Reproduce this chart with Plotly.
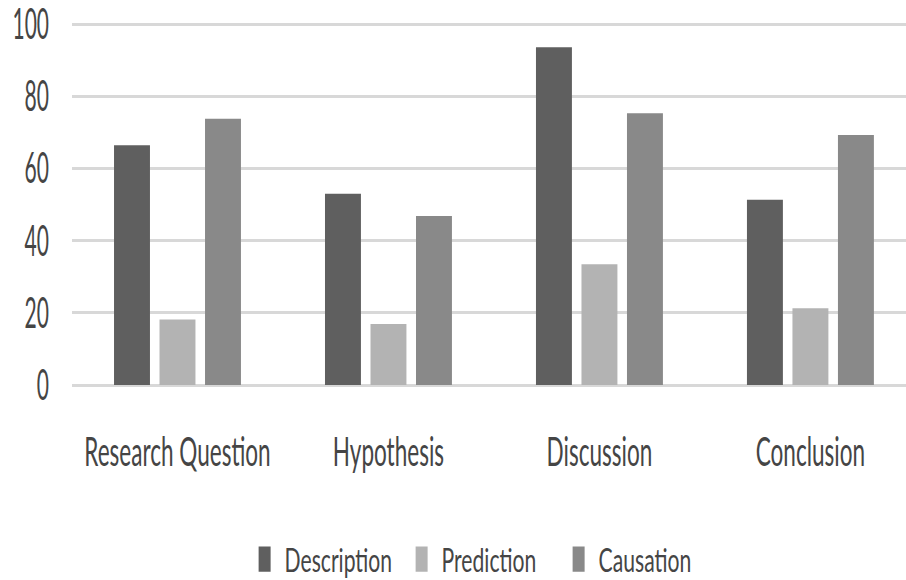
import plotly.graph_objects as go

categories = ["Research Question", "Hypothesis", "Discussion", "Conclusion"]
description = [66.5, 53.1, 93.7, 51.4]
prediction = [18.2, 16.9, 33.5, 21.3]
causation = [73.9, 46.9, 75.4, 69.4]
y_ticks = [0, 20, 40, 60, 80, 100]

series_names = ["Description", "Prediction", "Causation"]
series_values = [description, prediction, causation]
series_colors = ["#5f5f5f", "#b3b3b3", "#898989"]

fig = go.Figure()
for name, vals, color in zip(series_names, series_values, series_colors):
    fig.add_trace(go.Bar(
        x=categories, y=vals, name=name,
        marker=dict(color=color, line=dict(width=0)),
    ))

grid_color = "#d8d8d8"
fig.update_layout(
    width=906, height=580,
    margin=dict(l=72, r=0, t=21, b=195),
    paper_bgcolor="white", plot_bgcolor="white",
    barmode="group", bargap=0.353, bargroupgap=0.21,
    font=dict(family="Lato, sans-serif", color="#454545"),
    xaxis=dict(
        range=[-0.5, 3.453], tickangle=0, showgrid=False, showline=False,
        ticks="", tickfont=dict(size=41), ticklabelstandoff=39,
        ticklabeloverflow="allow",
        automargin=False, fixedrange=True,
    ),
    yaxis=dict(
        range=[0, 101], tickvals=y_ticks, showgrid=True,
        gridcolor=grid_color, gridwidth=2.5,
        zeroline=True, zerolinecolor=grid_color, zerolinewidth=2.5,
        showline=False, ticks="", tickfont=dict(size=42),
        ticklabelstandoff=22, ticklabeloverflow="allow",
        automargin=False, fixedrange=True,
    ),
    showlegend=True,
    legend=dict(
        orientation="h", xref="container", yref="container",
        x=0.27, y=0.036, xanchor="left", yanchor="middle",
        font=dict(size=33), entrywidth=112, entrywidthmode="pixels",
        itemclick=False, itemdoubleclick=False,
    ),
)

# Narrow, tall lettering: compress glyphs horizontally via SVG textLength,
# and stretch the legend swatches vertically.
squeeze_js = """
var gd = document.getElementById('{plot_id}');
function squeeze() {
  var groups = [['.xtick text', 0.55], ['.ytick text', 0.50], ['.legendtext', 0.64]];
  groups.forEach(function (g) {
    gd.querySelectorAll(g[0]).forEach(function (t) {
      if (t.getAttribute('data-sq')) return;
      var w = t.getComputedTextLength();
      t.setAttribute('textLength', (w * g[1]).toFixed(1));
      t.setAttribute('lengthAdjust', 'spacingAndGlyphs');
      t.setAttribute('data-sq', '1');
    });
  });
  gd.querySelectorAll('.legendpoints path').forEach(function (p) {
    if (p.getAttribute('data-sq')) return;
    var tr = p.getAttribute('transform') || '';
    p.setAttribute('transform', tr + ' scale(1,2.1)');
    p.setAttribute('data-sq', '1');
  });
}
squeeze();
gd.on('plotly_afterplot', squeeze);
"""

fig.write_html("out.html", post_script=squeeze_js, config={"displayModeBar": False})
